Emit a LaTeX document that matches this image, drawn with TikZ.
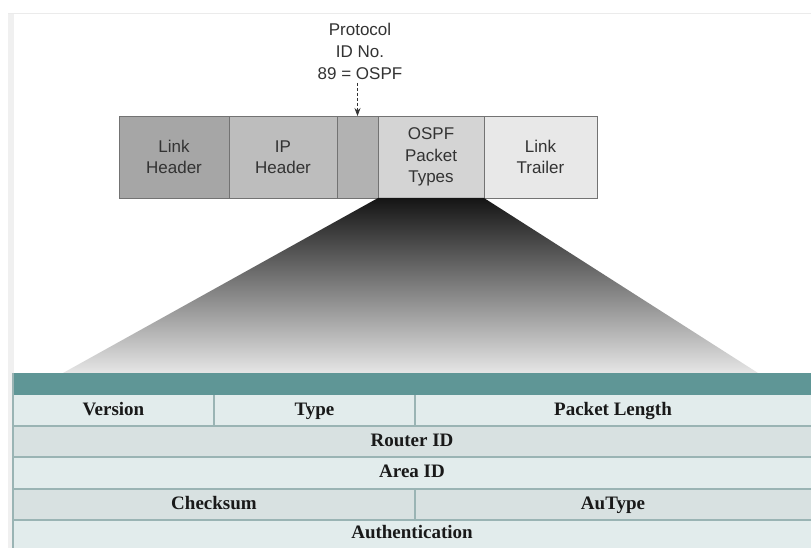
\documentclass[tikz,border=0pt]{standalone}
\usepackage{fontspec}
\usetikzlibrary{arrows.meta}
\setmainfont{Liberation Serif}
\newfontfamily\labelsans{Liberation Sans}
\begin{document}
\begin{tikzpicture}[x=1pt,y=-1pt,
  field/.style={draw=black!55,line width=0.8pt,anchor=north west,inner sep=0pt,outer sep=0pt,
    minimum height=82pt,align=center,text=black!80,
    font=\labelsans\fontsize{17}{21.5}\selectfont},
  hdrrow/.style={anchor=north west,inner sep=0pt,outer sep=0pt,text=black!90,
    text height=13pt,text depth=4pt,
    font=\bfseries\fontsize{19}{22}\selectfont},
  rowlight/.style={hdrrow,fill=rowA},
  rowdark/.style={hdrrow,fill=rowB},
  sepline/.style={draw=rowline,line width=1.6pt},
  callout/.style={align=center,text=black!80,font=\labelsans\fontsize{17}{22}\selectfont}]

\definecolor{teal}{HTML}{5F9696}
\definecolor{rowA}{HTML}{E2ECEC}
\definecolor{rowB}{HTML}{D8E1E1}
\definecolor{rowline}{HTML}{9AB4B4}

\useasboundingbox (0,0) rectangle (811,548);
\fill[white] (0,0) rectangle (811,548);

% outer frame edges
\draw[black!8,line width=1pt] (8,14) -- (811,14);
\fill[black!6] (8,14) rectangle (14,548);

% encapsulated packet
\node[field,fill=black!35,minimum width=110pt] (lh) at (119,116) {Link\\Header};
\node[field,fill=black!26,minimum width=108pt] (ih) at (lh.north east) {IP\\Header};
\node[field,fill=black!30,minimum width=41pt] (pid) at (ih.north east) {};
\node[field,fill=black!17,minimum width=106pt] (op) at (pid.north east) {OSPF\\Packet\\Types};
\node[field,fill=black!9,minimum width=113pt] (lt) at (op.north east) {Link\\Trailer};

% protocol number callout
\node[callout] (proto) at (360,51) {Protocol\\ID No.\\89 = OSPF};
\draw[densely dashed,black!80,line width=0.7pt,-{Stealth[length=8pt,width=6pt]}]
  (proto.south -| pid.north) -- (pid.north);

% zoom funnel
\coordinate (fl) at (63,373);
\coordinate (fr) at (758,373);
\shade[top color=black!92,bottom color=black!10]
  (op.south west) -- (op.south east) -- (fr) -- (fl) -- cycle;

% OSPF header table
\fill[teal] (13,373) rectangle (811,395);
\node[rowlight,minimum width=201pt,minimum height=31pt] (ver) at (13,395) {Version};
\node[rowlight,minimum width=201pt,minimum height=31pt] (typ) at (ver.north east) {Type};
\node[rowlight,minimum width=396pt,minimum height=31pt] (len) at (typ.north east) {Packet Length};
\node[rowdark,minimum width=798pt,minimum height=31pt] (rid) at (13,426) {Router ID};
\node[rowlight,minimum width=798pt,minimum height=32pt] (aid) at (13,457) {Area ID};
\node[rowdark,minimum width=402pt,minimum height=31pt] (chk) at (13,489) {Checksum};
\node[rowdark,minimum width=396pt,minimum height=31pt] (aut) at (chk.north east) {AuType};
\node[rowlight,minimum width=798pt,minimum height=28pt] (auth) at (13,520) {Authentication};

% row and column separators
\draw[sepline] (ver.south west) -- (len.south east);
\draw[sepline] (rid.south west) -- (rid.south east);
\draw[sepline] (aid.south west) -- (aid.south east);
\draw[sepline] (chk.south west) -- (aut.south east);
\draw[sepline] (ver.north east) -- (ver.south east);
\draw[sepline] (typ.north east) -- (typ.south east);
\draw[sepline] (chk.north east) -- (chk.south east);
\draw[sepline] (13,373) -- (13,548);
\end{tikzpicture}
\end{document}
